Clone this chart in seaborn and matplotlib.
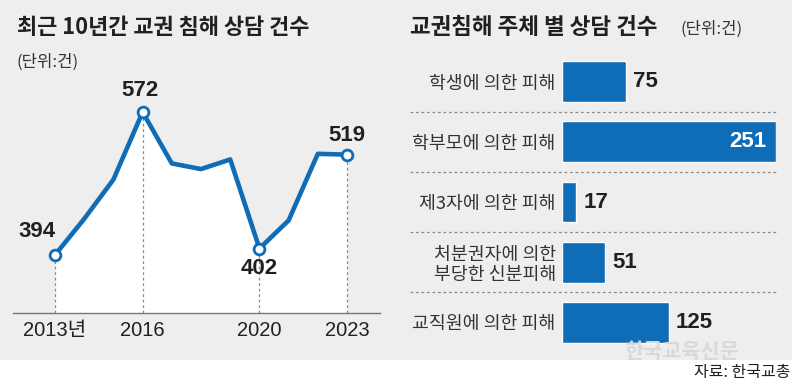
import matplotlib
matplotlib.use("Agg")
import matplotlib.pyplot as plt
import matplotlib.transforms as mtransforms
import seaborn as sns
import pandas as pd

# ---------------- data ----------------
years = [2013, 2014, 2015, 2016, 2017, 2018, 2019, 2020, 2021, 2022, 2023]
counts = [394, 439, 488, 572, 508, 501, 513, 402, 437, 520, 519]
marked_years = [2013, 2016, 2020, 2023]
year_labels = ["2013년", "2016", "2020", "2023"]

categories = ["학생에 의한 피해", "학부모에 의한 피해", "제3자에 의한 피해",
              "처분권자에 의한\n부당한 신분피해", "교직원에 의한 피해"]
cat_values = [75, 251, 17, 51, 125]

left_title = "최근 10년간 교권 침해 상담 건수"
right_title = "교권침해 주체 별 상담 건수"
unit_text = "(단위:건)"
source_text = "자료: 한국교총"
watermark = "한국교육신문"

# ---------------- style ----------------
sns.set_theme(style="white")
KR = ["Noto Sans CJK KR", "DejaVu Sans"]
NUM = ["Liberation Sans Narrow", "Liberation Sans", "Noto Sans CJK KR"]
plt.rcParams["font.family"] = KR

BLUE = "#0f6cb6"
BG = "#eeeeee"
TXT = "#231f20"

W, H = 792, 392
fig = plt.figure(figsize=(W / 100, H / 100), dpi=100)
fig.patch.set_facecolor("white")
fig.patches.append(plt.Rectangle((0, 32 / H), 1, 1 - 32 / H, transform=fig.transFigure,
                                 facecolor=BG, edgecolor="none", zorder=-10))


def fx(px):
    return px / W


def fy(py):
    return 1 - py / H


# ---------------- left: line chart ----------------
y_low, y_high = 322, 612
axL = fig.add_axes([fx(13), fy(312.7), fx(380) - fx(13), fy(80) - fy(312.7)])
axL.set_facecolor("none")
axL.fill_between(years, counts, y_low, color="white", zorder=1, linewidth=0)
for yr in marked_years:
    v = counts[years.index(yr)]
    axL.plot([yr, yr], [y_low, v], color="#8a8a8a", lw=0.9, ls=(0, (2.2, 2.2)), zorder=2)
sns.lineplot(x=years, y=counts, ax=axL, color=BLUE, lw=3.3, zorder=3)
mk_vals = [counts[years.index(y)] for y in marked_years]
sns.scatterplot(x=marked_years, y=mk_vals, ax=axL, s=60, color="white",
                edgecolor=BLUE, linewidth=2.0, zorder=4)

offsets = {2013: (-18, 23), 2016: (-3, 22), 2020: (0, -20), 2023: (0, 19)}
for yr, v in zip(marked_years, mk_vals):
    dx, dy = offsets[yr]
    axL.annotate(str(v), (yr, v), xytext=(dx * 0.72, dy * 0.72), textcoords="offset points",
                 ha="center", va="center", fontsize=16, fontweight="bold",
                 family=NUM, color=TXT, zorder=5)

axL.set_xlim(2011.56, 2024.13)
axL.set_ylim(y_low, y_high)
axL.set_xticks(marked_years)
axL.set_xticklabels(year_labels, family=NUM, fontsize=14.5, color=TXT)
axL.tick_params(axis="x", length=0, pad=6)
axL.set_yticks([])
axL.set_xlabel("")
axL.set_ylabel("")
for s in ["top", "right", "left"]:
    axL.spines[s].set_visible(False)
axL.spines["bottom"].set_color("#777777")
axL.spines["bottom"].set_linewidth(1.0)

fig.text(fx(17), fy(28), left_title, ha="left", va="center", fontsize=15.8,
         fontweight="bold", color=TXT, family=KR)
fig.text(fx(17), fy(62), unit_text, ha="left", va="center", fontsize=12,
         color="#333333", family=KR)

# ---------------- right: bar chart ----------------
df = pd.DataFrame({"category": categories, "value": cat_values})
spacing = 60.25
c0 = 81.5
top_px = c0 - 0.5 * spacing
bot_px = c0 + 4.5 * spacing
axR = fig.add_axes([fx(562), fy(bot_px), fx(776) - fx(562), fy(top_px) - fy(bot_px)])
axR.set_facecolor("none")
sns.barplot(data=df, y="category", x="value", orient="h", color=BLUE,
            saturation=1, width=0.68, ax=axR, zorder=3)
axR.set_xlim(0, 251)
axR.set_ylim(4.5, -0.5)
axR.set_xticks([])
axR.set_xlabel("")
axR.set_ylabel("")
axR.tick_params(axis="y", length=0, pad=4.5)
for lab in axR.get_yticklabels():
    lab.set_fontsize(13.2)
    lab.set_color("#333333")
    lab.set_family(KR)
    lab.set_linespacing(1.1)
for s in axR.spines.values():
    s.set_visible(False)

trans = mtransforms.blended_transform_factory(axR.transAxes, axR.transData)
sep_start = (410 - 562) / 214
for i in range(len(categories) - 1):
    axR.plot([sep_start, 1.0], [i + 0.5, i + 0.5], transform=trans, color="#8a8a8a",
             lw=0.9, ls=(0, (2.2, 2.2)), clip_on=False, zorder=1)

for i, v in enumerate(cat_values):
    if v == max(cat_values):
        axR.annotate(str(v), (v, i), xytext=(-7, 0), textcoords="offset points",
                     ha="right", va="center", fontsize=16, fontweight="bold",
                     family=NUM, color="white", zorder=5)
    else:
        axR.annotate(str(v), (v, i), xytext=(5, 0), textcoords="offset points",
                     ha="left", va="center", fontsize=16, fontweight="bold",
                     family=NUM, color=TXT, zorder=5)

fig.text(fx(410), fy(28), right_title, ha="left", va="center", fontsize=16.2,
         fontweight="bold", color=TXT, family=KR)
fig.text(fx(680), fy(29), unit_text, ha="left", va="center", fontsize=12,
         color="#333333", family=KR)

# watermark and source
fig.text(fx(624), fy(352), watermark, ha="left", va="center", fontsize=15,
         fontweight="bold", color="#d9d9d9", family=KR, zorder=0)
fig.text(fx(790), fy(373), source_text, ha="right", va="center", fontsize=11.5,
         color=TXT, family=KR)

fig.savefig("out.png", dpi=100, facecolor=fig.get_facecolor())
